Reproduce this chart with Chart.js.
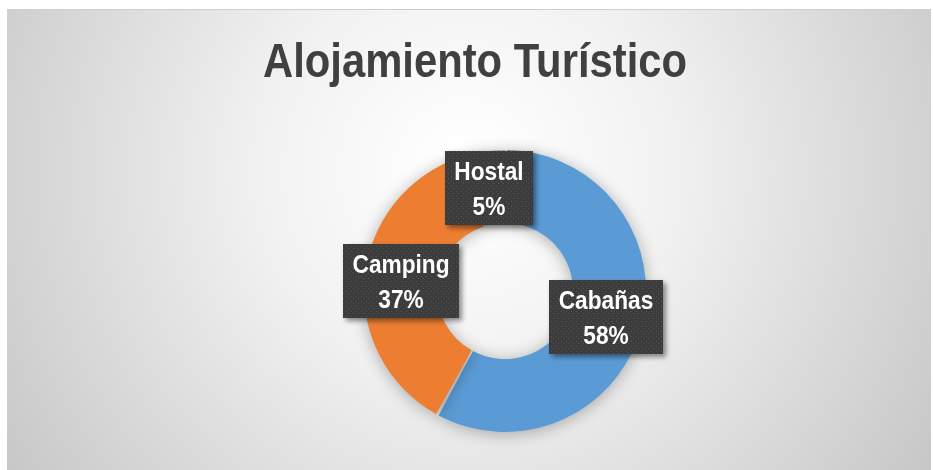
<!DOCTYPE html>
<html>
<head>
<meta charset="utf-8">
<script src="https://cdn.jsdelivr.net/npm/chart.js@4/dist/chart.umd.min.js"></script>
<style>
  html, body { margin: 0; padding: 0; background: #fff; }
  #wrap { position: relative; width: 933px; height: 470px; }
</style>
</head>
<body>
<div id="wrap"><canvas id="alojamientoChart" width="933" height="470"></canvas></div>
<script>
var chartTitle = 'Alojamiento Turístico';
var categories = ['Cabañas', 'Camping', 'Hostal'];
var values = [58, 37, 5];
var sliceColors = ['#5B9BD5', '#ED7D31', '#A5A5A5'];

var fontFamily = '"Liberation Sans", Arial, sans-serif';

// dotted fill used by the label boxes
function dotPattern(ctx) {
    var p = document.createElement('canvas');
    p.width = 5; p.height = 5;
    var pc = p.getContext('2d');
    pc.fillStyle = '#3c3c3c';
    pc.fillRect(0, 0, 5, 5);
    pc.fillStyle = '#545454';
    pc.fillRect(1, 1, 1, 1);
    pc.fillRect(3, 3, 1, 1);
    return ctx.createPattern(p, 'repeat');
}

// draw text squeezed horizontally so it looks condensed
function narrowText(ctx, text, x, y, squeeze) {
    ctx.save();
    ctx.translate(x, y);
    ctx.scale(squeeze, 1);
    ctx.fillText(text, 0, 0);
    ctx.restore();
}

var backgroundPlugin = {
    id: 'panelBackground',
    beforeDraw: function(chart) {
        var ctx = chart.ctx;
        var x0 = 7, y0 = 9, x1 = 931, y1 = 470;
        ctx.save();
        var g = ctx.createRadialGradient(466, 170, 20, 466, 170, 560);
        g.addColorStop(0, '#ffffff');
        g.addColorStop(0.35, '#f1f1f1');
        g.addColorStop(1, '#c6c6c6');
        ctx.fillStyle = g;
        ctx.fillRect(x0, y0, x1 - x0, y1 - y0);
        ctx.strokeStyle = '#cfcfcf';
        ctx.lineWidth = 1;
        ctx.beginPath();
        ctx.moveTo(x0, y0 + 0.5);
        ctx.lineTo(x1, y0 + 0.5);
        ctx.stroke();
        // title
        ctx.fillStyle = '#404040';
        ctx.font = 'bold 49px ' + fontFamily;
        ctx.textAlign = 'center';
        ctx.textBaseline = 'alphabetic';
        var sq = 424 / ctx.measureText(chartTitle).width;
        narrowText(ctx, chartTitle, 475, 77, sq);
        ctx.restore();
    },
    beforeDatasetsDraw: function(chart) {
        var ctx = chart.ctx;
        ctx.save();
        ctx.shadowColor = 'rgba(0,0,0,0.3)';
        ctx.shadowBlur = 16;
        ctx.shadowOffsetX = 0;
        ctx.shadowOffsetY = 2;
    },
    afterDatasetsDraw: function(chart) {
        chart.ctx.restore();
    }
};

var labelPlugin = {
    id: 'boxLabels',
    afterDraw: function(chart) {
        var ctx = chart.ctx;
        var meta = chart.getDatasetMeta(0);
        var total = values.reduce(function(a, b) { return a + b; }, 0);
        var pattern = dotPattern(ctx);
        ctx.save();
        ctx.font = 'bold 25px ' + fontFamily;
        var sq = 97 / ctx.measureText('Camping').width;
        meta.data.forEach(function(arc, i) {
            var pos = arc.tooltipPosition();
            var line1 = categories[i];
            var line2 = Math.round(values[i] / total * 100) + '%';
            var tw = Math.max(ctx.measureText(line1).width, ctx.measureText(line2).width) * sq;
            var w = Math.round(tw + 19);
            var h = 74;
            var bx = Math.round(pos.x - w / 2), by = Math.round(pos.y - h / 2);
            ctx.save();
            ctx.shadowColor = 'rgba(0,0,0,0.45)';
            ctx.shadowBlur = 5;
            ctx.shadowOffsetX = 3;
            ctx.shadowOffsetY = 3;
            ctx.fillStyle = '#3c3c3c';
            ctx.fillRect(bx, by, w, h);
            ctx.restore();
            ctx.fillStyle = pattern;
            ctx.fillRect(bx, by, w, h);
            ctx.fillStyle = '#ffffff';
            ctx.textAlign = 'center';
            ctx.textBaseline = 'alphabetic';
            narrowText(ctx, line1, bx + w / 2, by + 29, sq);
            narrowText(ctx, line2, bx + w / 2, by + 64, sq);
        });
        ctx.restore();
    }
};

var ctx = document.getElementById('alojamientoChart').getContext('2d');
var alojamientoChart = new Chart(ctx, {
    type: 'doughnut',
    data: {
        labels: categories,
        datasets: [{
            data: values,
            backgroundColor: sliceColors,
            borderWidth: 0,
            spacing: 1.5
        }]
    },
    options: {
        responsive: false,
        animation: false,
        cutout: '48%',
        layout: {
            padding: { top: 150, bottom: 38, left: 77, right: 0 }
        },
        plugins: {
            legend: { display: false },
            title: { display: false },
            tooltip: { enabled: false }
        }
    },
    plugins: [backgroundPlugin, labelPlugin]
});
</script>
</body>
</html>
